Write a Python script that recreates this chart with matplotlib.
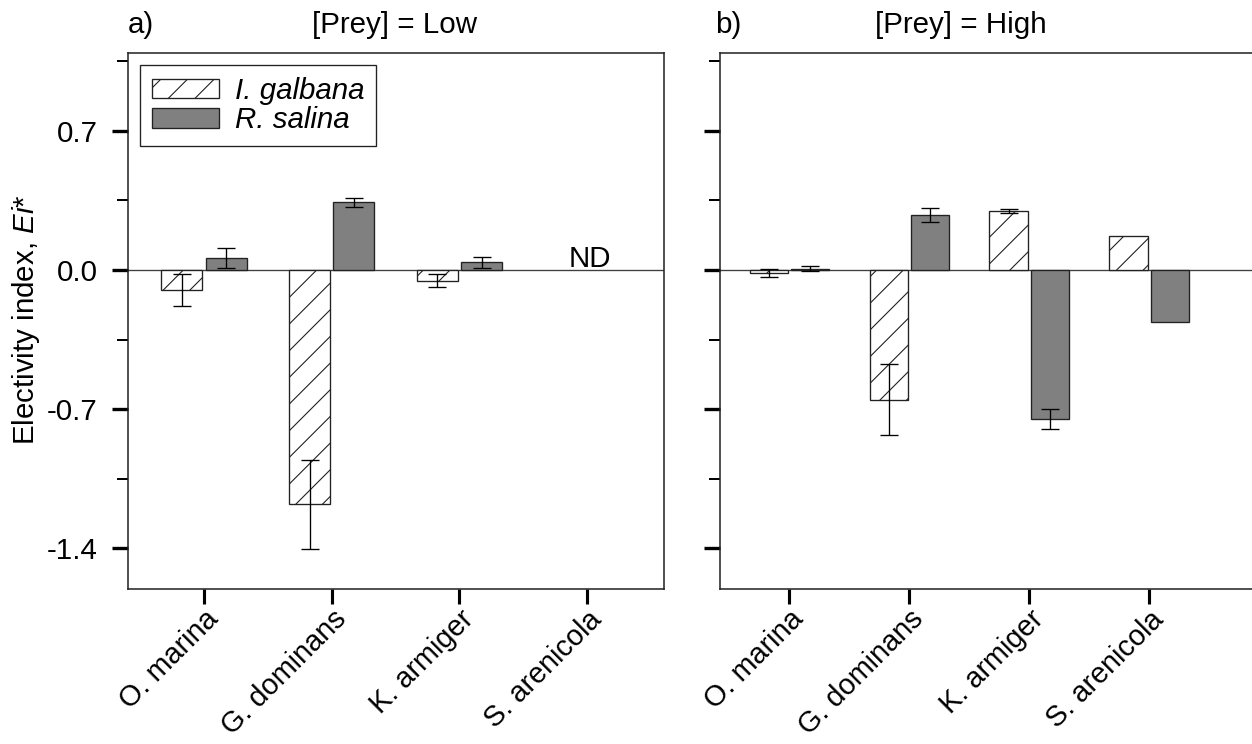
import numpy as np
import matplotlib.pyplot as plt
from matplotlib.ticker import MultipleLocator, FormatStrFormatter

plt.rcParams.update({
    'font.family': 'Liberation Sans',
    'font.size': 13.3,
    'mathtext.fontset': 'custom',
    'mathtext.rm': 'Liberation Sans',
    'mathtext.it': 'Liberation Sans:italic',
    'axes.unicode_minus': False,
    'hatch.linewidth': 0.5,
    'hatch.color': '#222222',
})

species = ['O. marina', 'G. dominans', 'K. armiger', 'S. arenicola']

# [Prey] = Low  (no data for S. arenicola)
low_galbana = [-0.10, -1.18, -0.053, np.nan]
low_galbana_err = [0.08, 0.223, 0.034, np.nan]
low_salina = [0.061, 0.342, 0.038, np.nan]
low_salina_err = [0.051, 0.023, 0.029, np.nan]

# [Prey] = High
high_galbana = [-0.015, -0.652, 0.297, 0.169]
high_galbana_err = [0.019, 0.18, 0.01, np.nan]
high_salina = [0.007, 0.275, -0.748, -0.264]
high_salina_err = [0.014, 0.035, 0.05, np.nan]

width = 0.32
off = 0.173
x = np.arange(1, len(species) + 1)

fig = plt.figure(figsize=(1252 / 160, 744 / 160), dpi=160)
ax1 = fig.add_axes([128 / 1252, 155 / 744, 536 / 1252, 536.3 / 744])
ax2 = fig.add_axes([720 / 1252, 155 / 744, 536 / 1252, 536.3 / 744])


def draw_panel(ax, gal, gal_err, sal, sal_err, xlim):
    gal = np.array(gal, dtype=float)
    sal = np.array(sal, dtype=float)
    mg = ~np.isnan(gal)
    ms = ~np.isnan(sal)
    ax.axhline(0, color='#404040', lw=0.6, zorder=1)
    ax.bar(x[mg] - off, gal[mg], width, color='white', edgecolor='#222222',
           hatch='//', lw=0.6, zorder=2, label='I. galbana')
    ax.bar(x[ms] + off, sal[ms], width, color='#808080', edgecolor='#222222',
           lw=0.6, zorder=2, label='R. salina')
    ax.errorbar(x - off, gal, yerr=gal_err, fmt='none', ecolor='black',
                elinewidth=0.6, capsize=4.2, capthick=0.6, zorder=3)
    ax.errorbar(x + off, sal, yerr=sal_err, fmt='none', ecolor='black',
                elinewidth=0.6, capsize=4.2, capthick=0.6, zorder=3)

    ax.set_xlim(*xlim)
    ax.set_ylim(-1.606, 1.094)
    ax.yaxis.set_major_locator(MultipleLocator(0.7))
    ax.yaxis.set_minor_locator(MultipleLocator(0.35))
    ax.yaxis.set_major_formatter(FormatStrFormatter('%.1f'))
    ax.set_xticks(x)
    ax.set_xticklabels(species, rotation=45, ha='right',
                       rotation_mode='anchor', fontsize=13.0)
    ax.tick_params(axis='y', which='major', direction='out', length=7.2,
                   width=1.5, pad=6.5)
    ax.tick_params(axis='y', which='minor', direction='out', length=5,
                   width=0.9)
    ax.tick_params(axis='x', which='major', direction='out', length=6.8,
                   width=1.4, pad=0.5)
    for sp in ax.spines.values():
        sp.set_linewidth(0.7)
        sp.set_color('#222222')


draw_panel(ax1, low_galbana, low_galbana_err, low_salina, low_salina_err,
           (0.405, 4.602))
draw_panel(ax2, high_galbana, high_galbana_err, high_salina, high_salina_err,
           (0.421, 4.888))
ax2.set_yticklabels([])

ax1.text(4.02, 0.017, 'ND', ha='center', va='baseline')

ax1.legend(loc='upper left', prop={'style': 'italic'}, frameon=True,
           fancybox=False, edgecolor='#222222', framealpha=1,
           handlelength=2.27, handleheight=0.64, handletextpad=0.53,
           labelspacing=0.05, borderpad=0.4, borderaxespad=0.42)
ax1.get_legend().get_frame().set_linewidth(0.6)

fig.text(26.5 / 1252, 1 - 320 / 744, r'Electivity index, $Ei$*',
         rotation=90, ha='center', va='center')

fig.text(128 / 1252, 1 - 33 / 744, 'a)', ha='left', va='baseline')
fig.text(395 / 1252, 1 - 33 / 744, '[Prey] = Low', ha='center', va='baseline')
fig.text(715 / 1252, 1 - 33 / 744, 'b)', ha='left', va='baseline')
fig.text(961 / 1252, 1 - 33 / 744, '[Prey] = High', ha='center',
         va='baseline')

fig.savefig('out.png', dpi=160)
